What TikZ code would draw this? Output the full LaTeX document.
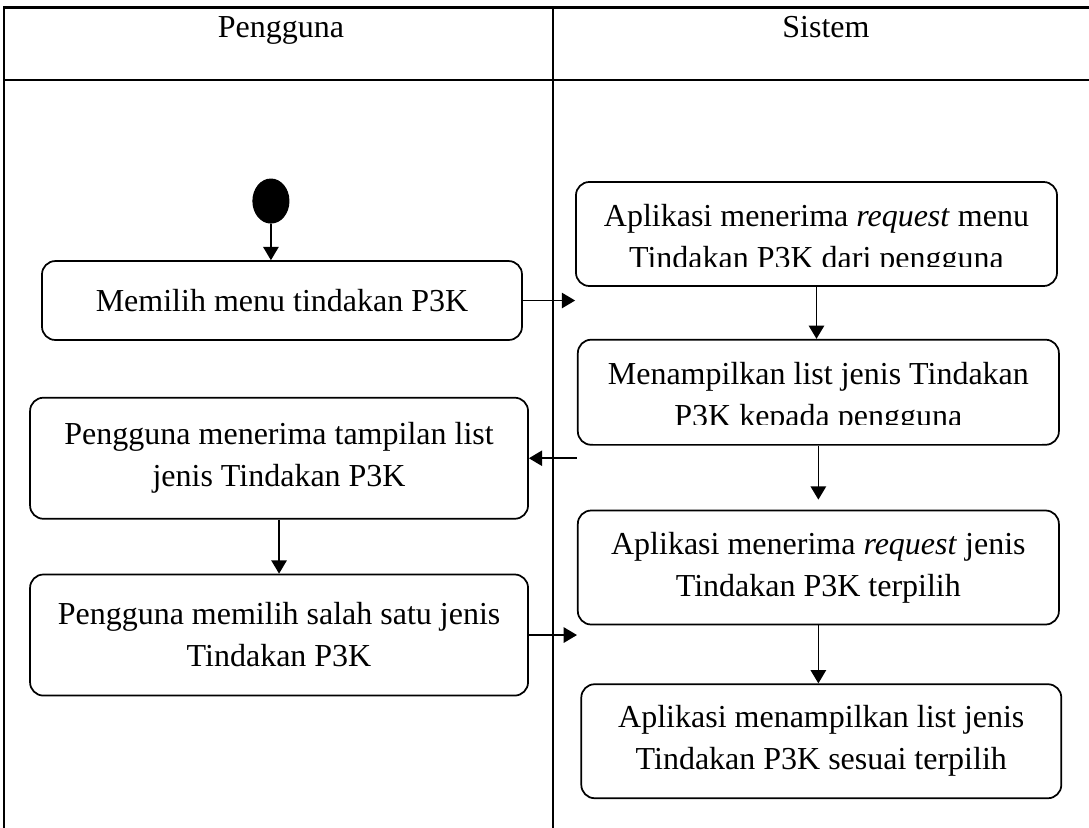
\documentclass[tikz,border=0pt]{standalone}
\usepackage{fontspec}
\setmainfont{Liberation Serif}
\usetikzlibrary{arrows.meta, positioning, shapes.geometric}

\begin{document}
\begin{tikzpicture}[
        aksi/.style={rectangle, rounded corners=5pt, draw, line width=0.65pt, align=center, font=\fontsize{12}{15.75}\selectfont},
        mulai/.style={ellipse, draw, fill=black, minimum width=13.5pt, minimum height=16.5pt, inner sep=0pt},
        alur/.style={-{Triangle[length=5pt, width=5.8pt]}, line width=0.6pt},
        lajur/.style={line width=0.8pt},
        judul/.style={anchor=base, font=\fontsize{12}{15.75}\selectfont}
    ]
        \useasboundingbox (0,0) rectangle (408.4pt,-310.5pt);

        % Swimlanes
        \draw[lajur] (408.4pt,-2.8pt) -- (1.5pt,-2.8pt) -- (1.5pt,-310.5pt);
        \draw[lajur] (1.5pt,-30pt) -- (408.4pt,-30pt);
        \draw[lajur] (207.4pt,-2.8pt) -- (207.4pt,-310.5pt);
        \node[judul] (pengguna) at (105.4pt,-14pt) {Pengguna};
        \node[judul] (sistem) at (309.75pt,-14pt) {Sistem};

        % Pengguna lane
        \node[mulai] (awal) at (101.6pt,-75.4pt) {};
        \node[aksi, minimum width=180pt, minimum height=29.6pt] (pilihmenu) at (105.75pt,-112.7pt) {Memilih menu tindakan P3K};
        \node[aksi, minimum width=186.75pt, minimum height=45.4pt, below=21pt of pilihmenu, xshift=-1.1pt] (terimalist) {Pengguna menerima tampilan list\\jenis Tindakan P3K};
        \node[aksi, minimum width=186.75pt, minimum height=45.4pt, below=20.25pt of terimalist] (pilihjenis) {Pengguna memilih salah satu jenis\\Tindakan P3K};

        % Sistem lane
        \node[aksi, minimum width=180.4pt, minimum height=39pt] (terimamenu) at (306.2pt,-87.75pt) {\rule{0pt}{12.7pt}Aplikasi menerima \textit{request} menu\\Tindakan P3K dari pengguna};
        \node[aksi, minimum width=180.4pt, minimum height=39.4pt, below=19.5pt of terimamenu, xshift=0.7pt] (tampillist) {\rule{0pt}{12.7pt}Menampilkan list jenis Tindakan\\P3K kepada pengguna};
        \node[aksi, minimum width=180.4pt, minimum height=42.75pt, below=24pt of tampillist] (terimajenis) {Aplikasi menerima \textit{request} jenis\\Tindakan P3K terpilih};
        \node[aksi, minimum width=180pt, minimum height=42.75pt, below=21.75pt of terimajenis, xshift=1.1pt] (tampilsesuai) {Aplikasi menampilkan list jenis\\Tindakan P3K sesuai terpilih};

        % bottom of the text is cut off in these two boxes
        \fill[white] (terimamenu.south west) ++(6pt,0.7pt) rectangle ++(168.4pt,6.9pt);
        \fill[white] (tampillist.south west) ++(6pt,0.7pt) rectangle ++(168.4pt,6.9pt);

        % Flow
        \draw[alur] (awal) -- (awal |- pilihmenu.north);
        \draw[alur] (pilihmenu.east) -- (pilihmenu.east -| terimamenu.west);
        \draw[alur] (terimamenu) -- (terimamenu |- tampillist.north);
        \draw[alur] (tampillist.west |- terimalist.east) -- (terimalist.east);
        \draw[alur, shorten >=3.75pt] (tampillist) -- (tampillist |- terimajenis.north);
        \draw[alur] (terimalist) -- (terimalist |- pilihjenis.north);
        \draw[alur] (pilihjenis.east) -- (pilihjenis.east -| terimajenis.west);
        \draw[alur] (terimajenis) -- (terimajenis |- tampilsesuai.north);
    \end{tikzpicture}
\end{document}
